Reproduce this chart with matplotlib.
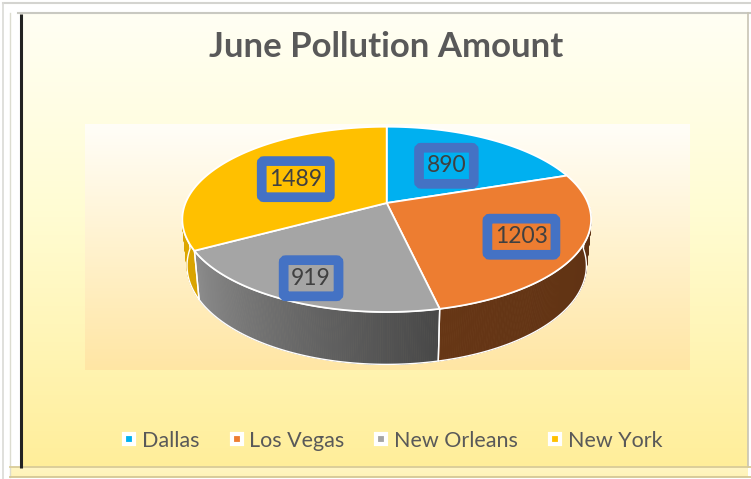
import numpy as np
import matplotlib.pyplot as plt
from matplotlib.patches import Polygon
from matplotlib.lines import Line2D
from matplotlib.colors import to_rgb

cities = ['Dallas', 'Los Vegas', 'New Orleans', 'New York']
amounts = [890, 1203, 919, 1489]
colors = ['#00B0F0', '#ED7D31', '#A5A5A5', '#FFC000']
title = 'June Pollution Amount'
label_r = [0.55, 0.72, 0.8, 0.55]   # where the value boxes sit along each slice

plt.rcParams['font.family'] = ['Lato', 'DejaVu Sans']

# 3d pie camera (pixel space)
tilt = np.radians(26.5)
dist = 5.07
depth = 0.26
focal = 1020
cx, cy = 386.7, 203


def project(t, r=1.0, z=0.0):
    # t = angle clockwise from 12 o'clock
    x = r * np.sin(t)
    y = r * np.cos(t)
    w = dist + y * np.cos(tilt) - z * np.sin(tilt)
    v = y * np.sin(tilt) + z * np.cos(tilt)
    return cx + focal * x / w, cy - focal * v / w


def shade(t):
    return np.interp(np.degrees(t), [90, 167, 241, 270], [0.40, 0.43, 0.85, 0.87])


def vgrad(ax, x0, x1, y0, y1, stops, cols, z=0):
    yy = np.linspace(0, 1, 256)
    rgb = np.array([to_rgb(c) for c in cols])
    img = np.stack([np.interp(yy, stops, rgb[:, k]) for k in range(3)], axis=-1)[:, None, :]
    ax.imshow(img, extent=(x0, x1, y1, y0), aspect='auto', zorder=z, interpolation='bilinear')


fig = plt.figure(figsize=(7.51, 4.79), dpi=100)
ax = fig.add_axes([0, 0, 1, 1])
ax.set_xlim(0, 751)
ax.set_ylim(479, 0)
ax.axis('off')

# frame / backgrounds
vgrad(ax, 20, 748, 13, 467, [0, 0.45, 1], ['#FFFFF4', '#FFFCD2', '#FFEE9A'], z=0)
vgrad(ax, 10, 748, 467, 477, [0, 1], ['#FFF6C4', '#FFF3B8'], z=0)
vgrad(ax, 85, 690, 124, 370, [0, 1], ['#FFFEF8', '#FFE6A4'], z=1)
ax.plot([3, 751], [3, 3], color='#D4D4D0', lw=1.5, zorder=2)
ax.plot([3, 3], [3, 479], color='#DADAD6', lw=1.2, zorder=2)
ax.plot([10, 10], [13, 477], color='#DCDCD0', lw=1, zorder=2)
ax.plot([18, 751], [13, 13], color='#C9C9C2', lw=1.5, zorder=2)
ax.plot([748, 748], [13, 467], color='#C8C4B4', lw=1.2, zorder=2)
ax.plot([10, 751], [467, 467], color='#D9CC98', lw=1.3, zorder=2)
ax.plot([10, 751], [477, 477], color='#D4C794', lw=1.3, zorder=2)
ax.plot([20.5, 20.5], [14, 468], color='#222222', lw=2.2, zorder=3, solid_capstyle='butt')

fracs = np.array(amounts) / sum(amounts)
edges = np.concatenate([[0], np.cumsum(fracs)]) * 2 * np.pi

# side walls
for i in range(len(amounts)):
    a0, a1 = max(edges[i], np.pi / 2), min(edges[i + 1], 1.5 * np.pi)
    if a1 <= a0:
        continue
    ts = np.linspace(a0, a1, int(np.degrees(a1 - a0)) * 2 + 2)
    base = np.array(to_rgb(colors[i]))
    for ta, tb in zip(ts[:-1], ts[1:]):
        xa, ya = project(ta)
        xb, yb = project(tb)
        xa2, ya2 = project(ta, z=-depth)
        xb2, yb2 = project(tb, z=-depth)
        c = base * shade((ta + tb) / 2)
        ax.add_patch(Polygon([(xa, ya), (xb, yb), (xb2, yb2), (xa2, ya2)],
                             closed=True, fc=c, ec=c, lw=0.6, zorder=4))
    tx, ty = project(ts)
    bx, by = project(ts[::-1], z=-depth)
    ax.add_patch(Polygon(np.column_stack([np.r_[tx, bx], np.r_[ty, by]]),
                         closed=True, fill=False, ec='white', lw=1.0, zorder=5))

# top faces
for i in range(len(amounts)):
    ts = np.linspace(edges[i], edges[i + 1], 120)
    px, py = project(ts)
    pts = np.column_stack([np.r_[cx, px], np.r_[cy, py]])
    ax.add_patch(Polygon(pts, closed=True, fc=colors[i], ec='white', lw=1.3, zorder=6))

# value labels
for i in range(len(amounts)):
    mid = (edges[i] + edges[i + 1]) / 2
    lx, ly = project(mid, r=label_r[i])
    ax.text(lx, ly, str(amounts[i]), ha='center', va='center', fontsize=16.5,
            color='#404040', zorder=8,
            bbox=dict(boxstyle='round,pad=0.33,rounding_size=0.1', fc=colors[i],
                      ec='#4472C4', lw=7))

ax.text(386, 47, title, ha='center', va='center', fontsize=25, fontweight='bold',
        color='#595959', zorder=8)

handles = [Line2D([], [], marker='s', ls='', markersize=7.5, markerfacecolor=c,
                  markeredgecolor='white', markeredgewidth=3) for c in colors]
ax.legend(handles, cities, ncol=4, frameon=False, fontsize=15.5, loc='center',
          bbox_to_anchor=(391 / 751, 1 - 441 / 479), handletextpad=0.15,
          columnspacing=1.25, labelcolor='#595959', handlelength=0.9)

fig.savefig('out.png', dpi=100)
